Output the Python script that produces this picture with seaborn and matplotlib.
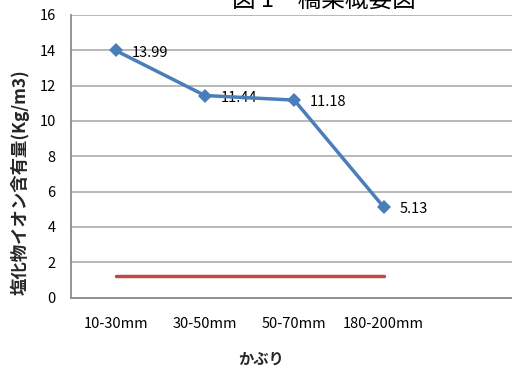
import matplotlib
matplotlib.use("Agg")
import matplotlib.pyplot as plt
import seaborn as sns
import pandas as pd

# Concrete cover depth bands and measured chloride content
cover = ["10-30mm", "30-50mm", "50-70mm", "180-200mm"]
chloride = [13.99, 11.44, 11.18, 5.13]
limit = [1.2, 1.2, 1.2, 1.2]

title = "図 1　橋梁概要図"
xlabel = "かぶり"
ylabel = "塩化物イオン含有量(Kg/m3)"
yticks = [0, 2, 4, 6, 8, 10, 12, 14, 16]

sns.set_theme(style="white")
plt.rcParams["font.family"] = ["Noto Sans CJK JP", "DejaVu Sans"]

W, H = 512, 371
fig = plt.figure(figsize=(W / 100, H / 100), dpi=100)
left, right, top, bottom = 71, 517.5, 15, 297.5
ax = fig.add_axes([left / W, 1 - bottom / H, (right - left) / W, (bottom - top) / H])

pos = list(range(len(cover)))
df = pd.DataFrame({"pos": pos, "cover": cover, "chloride": chloride, "limit": limit})

sns.lineplot(data=df, x="pos", y="limit", ax=ax, color="#BE4B48",
             linewidth=2.5, solid_capstyle="round", zorder=3)
sns.lineplot(data=df, x="pos", y="chloride", ax=ax, color="#4A7EBB",
             linewidth=2.5, marker="D", markersize=7.5, markeredgewidth=0, zorder=4)

for x, v in zip(pos, chloride):
    ax.annotate(f"{v:.2f}", (x, v), xytext=(11.5, -1.5), textcoords="offset points",
                ha="left", va="center", fontsize=10.5, color="#000000")

ax.set_xlim(-0.5, 4.5)
ax.set_ylim(0, 16)
ax.set_yticks(yticks)
ax.set_yticklabels([str(t) for t in yticks])
ax.set_xticks(pos)
ax.set_xticklabels(cover)
ax.tick_params(axis="x", length=0, pad=14, labelsize=10.5, colors="#000000")
ax.tick_params(axis="y", length=0, pad=11, labelsize=10.5, colors="#000000")
ax.grid(axis="y", color="#A6A6A6", linewidth=1.1)
ax.set_axisbelow(True)

for side in ("top", "right"):
    ax.spines[side].set_visible(False)
for side in ("left", "bottom"):
    ax.spines[side].set_color("#8C8C8C")
    ax.spines[side].set_linewidth(1.3)

ax.set_xlabel(xlabel, fontsize=11, fontweight="bold", va="center")
ax.xaxis.set_label_coords((261 - left) / (right - left), -(359 - bottom) / (bottom - top))
ax.set_ylabel(ylabel, fontsize=12.5, fontweight="bold", va="center")
ax.yaxis.set_label_coords(-(left - 19.5) / (right - left), (bottom - 182) / (bottom - top))

fig.text(324 / W, 1 - 8 / H, title, ha="center", va="baseline", fontsize=17, color="#000000")

fig.savefig("out.png", dpi=100)
